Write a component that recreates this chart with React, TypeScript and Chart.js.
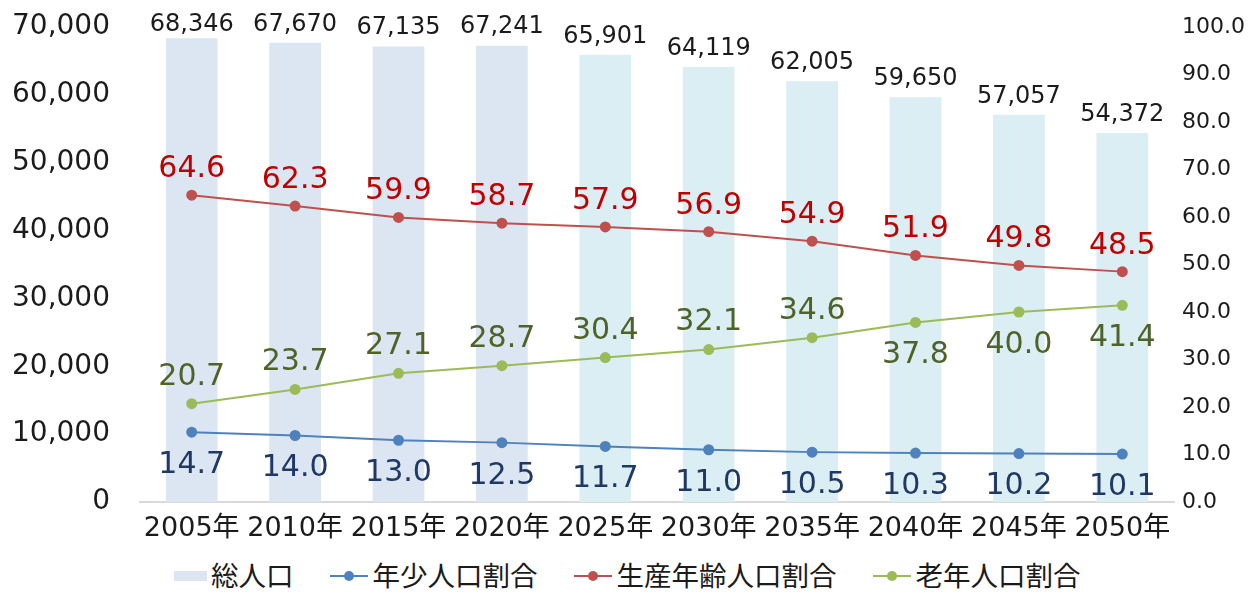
import React, { useEffect, useRef } from "react";
import { Chart, registerables } from "chart.js";

Chart.register(...registerables);

const categories = ["2005年", "2010年", "2015年", "2020年", "2025年", "2030年", "2035年", "2040年", "2045年", "2050年"];
const totalPopulation = [68346, 67670, 67135, 67241, 65901, 64119, 62005, 59650, 57057, 54372];
const youngRatio = [14.7, 14.0, 13.0, 12.5, 11.7, 11.0, 10.5, 10.3, 10.2, 10.1];
const workingRatio = [64.6, 62.3, 59.9, 58.7, 57.9, 56.9, 54.9, 51.9, 49.8, 48.5];
const elderlyRatio = [20.7, 23.7, 27.1, 28.7, 30.4, 32.1, 34.6, 37.8, 40.0, 41.4];
const leftTicks = [0, 10000, 20000, 30000, 40000, 50000, 60000, 70000];
const rightTicks = [0, 10, 20, 30, 40, 50, 60, 70, 80, 90, 100];
const seriesNames = ["総人口", "年少人口割合", "生産年齢人口割合", "老年人口割合"];
const firstProjectedYear = 2025;

const FONT = "'DejaVu Sans', 'Noto Sans CJK JP', sans-serif";
const BAR_PAST = "#dce6f2";
const BAR_PROJ = "#daeef3";
const BLUE = "#4f81bd";
const RED = "#c0504d";
const GREEN = "#9bbb59";

// draws value labels; `offset` is the distance between the mark and the visual centre of the digits
const labelPlugin = {
  id: "valueLabels",
  afterDatasetsDraw(chart: any) {
    const ctx = chart.ctx;
    chart.data.datasets.forEach((ds: any, di: number) => {
      const meta = chart.getDatasetMeta(di);
      const cfg = ds.valueLabel;
      if (!cfg || meta.hidden) return;
      ctx.save();
      ctx.font = `${cfg.size}px ${FONT}`;
      ctx.fillStyle = cfg.color;
      ctx.textAlign = "center";
      ctx.textBaseline = "alphabetic";
      const halfCap = cfg.size * 0.364;
      meta.data.forEach((el: any, i: number) => {
        const v = ds.data[i];
        const pos = cfg.position(i);
        let cy = pos === "above" ? el.y - cfg.offset : el.y + cfg.offset;
        if (cfg.minCenter !== undefined) cy = Math.max(cy, cfg.minCenter(chart));
        ctx.fillText(cfg.format(v), el.x, cy + halfCap);
      });
      ctx.restore();
    });
  },
};

function LegendItem({ kind, color, text }: { kind: "bar" | "line"; color: string; text: string }) {
  return (
    <div style={{ display: "flex", alignItems: "center", marginRight: 36 }}>
      {kind === "bar" ? (
        <div style={{ width: 33, height: 10, background: color, marginRight: 4 }} />
      ) : (
        <div style={{ position: "relative", width: 38, height: 12, marginRight: 5 }}>
          <div style={{ position: "absolute", left: 0, right: 0, top: 5, height: 2, background: color }} />
          <div
            style={{
              position: "absolute",
              left: 14,
              top: 1,
              width: 10,
              height: 10,
              borderRadius: 5,
              background: color,
            }}
          />
        </div>
      )}
      <span style={{ fontSize: 27.5, color: "#1b1b1b", fontFamily: FONT }}>{text}</span>
    </div>
  );
}

const noVerticalPadding = (s: any) => {
  s.paddingTop = 0;
  s.paddingBottom = 0;
};

const fixed1 = (v: number) => v.toFixed(1);

export default function App() {
  const ref = useRef<HTMLCanvasElement | null>(null);

  useEffect(() => {
    if (!ref.current) return;
    Chart.defaults.font.family = FONT;
    const chart = new Chart(ref.current, {
      type: "bar",
      data: {
        labels: categories,
        datasets: [
          {
            type: "line",
            label: seriesNames[1],
            data: youngRatio,
            yAxisID: "y1",
            borderColor: BLUE,
            backgroundColor: BLUE,
            pointBackgroundColor: BLUE,
            pointBorderColor: BLUE,
            borderWidth: 2,
            pointRadius: 4.5,
            order: 0,
            valueLabel: { color: "#1f3864", size: 30, offset: 30, position: () => "below", format: fixed1 },
          } as any,
          {
            type: "line",
            label: seriesNames[2],
            data: workingRatio,
            yAxisID: "y1",
            borderColor: RED,
            backgroundColor: RED,
            pointBackgroundColor: RED,
            pointBorderColor: RED,
            borderWidth: 2,
            pointRadius: 4.5,
            order: 0,
            valueLabel: { color: "#c00000", size: 30, offset: 29, position: () => "above", format: fixed1 },
          } as any,
          {
            type: "line",
            label: seriesNames[3],
            data: elderlyRatio,
            yAxisID: "y1",
            borderColor: GREEN,
            backgroundColor: GREEN,
            pointBackgroundColor: GREEN,
            pointBorderColor: GREEN,
            borderWidth: 2,
            pointRadius: 4.5,
            order: 0,
            valueLabel: {
              color: "#4f6228",
              size: 30,
              offset: 30,
              position: (i: number) => (i >= 7 ? "below" : "above"),
              format: fixed1,
            },
          } as any,
          {
            type: "bar",
            label: seriesNames[0],
            data: totalPopulation,
            yAxisID: "y",
            backgroundColor: (c: any) =>
              parseInt(categories[c.dataIndex], 10) >= firstProjectedYear ? BAR_PROJ : BAR_PAST,
            barPercentage: 0.5,
            categoryPercentage: 1,
            order: 1,
            valueLabel: {
              color: "#1b1b1b",
              size: 24,
              offset: 21,
              minCenter: (ch: any) => ch.chartArea.top - 5,
              position: () => "above",
              format: (v: number) => v.toLocaleString("en-US"),
            },
          } as any,
        ],
      },
      options: {
        responsive: false,
        animation: false,
        devicePixelRatio: 1,
        layout: { padding: { top: 27, left: 0, right: 0, bottom: 0 } },
        plugins: {
          legend: { display: false },
          tooltip: { enabled: false },
        },
        scales: {
          x: {
            grid: { display: false, drawTicks: false },
            border: { display: true, color: "#d9d9d9", width: 2 },
            ticks: {
              color: "#1b1b1b",
              font: { size: 27 },
              padding: 11,
              maxRotation: 0,
              autoSkip: false,
            },
            afterFit: (s: any) => {
              s.height = 58;
            },
          },
          y: {
            position: "left",
            min: 0,
            max: 70000,
            grid: { display: false, drawTicks: false },
            border: { display: false },
            afterBuildTicks: (s: any) => {
              s.ticks = leftTicks.map((v) => ({ value: v }));
            },
            ticks: {
              color: "#1b1b1b",
              font: { size: 28 },
              padding: 30,
              callback: (v: any) => Number(v).toLocaleString("en-US"),
            },
            afterFit: (s: any) => {
              s.width = 140;
              noVerticalPadding(s);
            },
          },
          y1: {
            position: "right",
            min: 0,
            max: 100,
            grid: { display: false, drawTicks: false },
            border: { display: false },
            afterBuildTicks: (s: any) => {
              s.ticks = rightTicks.map((v) => ({ value: v }));
            },
            ticks: {
              color: "#1b1b1b",
              font: { size: 22 },
              padding: 8,
              callback: (v: any) => Number(v).toFixed(1),
            },
            afterFit: (s: any) => {
              s.width = 76;
              noVerticalPadding(s);
            },
          },
        },
      } as any,
      plugins: [labelPlugin],
    });
    return () => chart.destroy();
  }, []);

  return (
    <div style={{ position: "absolute", left: 0, top: 0, width: 1250, height: 592, background: "#fff" }}>
      <canvas ref={ref} width={1250} height={560} style={{ display: "block" }} />
      <div
        style={{
          height: 32,
          display: "flex",
          alignItems: "center",
          justifyContent: "flex-start",
          paddingLeft: 174,
          lineHeight: "32px",
        }}
      >
        <LegendItem kind="bar" color={BAR_PAST} text={seriesNames[0]} />
        <LegendItem kind="line" color={BLUE} text={seriesNames[1]} />
        <LegendItem kind="line" color={RED} text={seriesNames[2]} />
        <LegendItem kind="line" color={GREEN} text={seriesNames[3]} />
      </div>
    </div>
  );
}
